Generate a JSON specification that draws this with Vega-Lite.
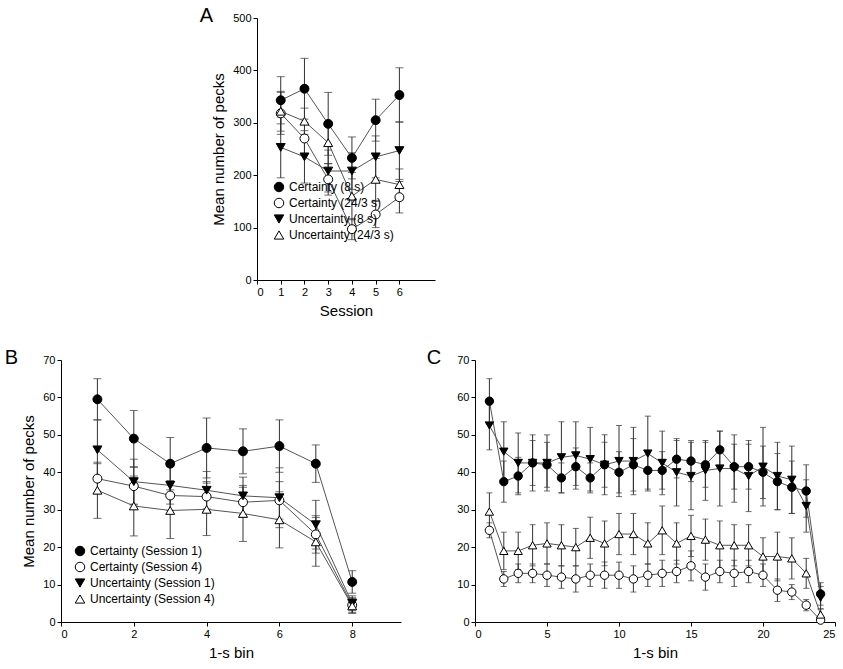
{
  "$schema": "https://vega.github.io/schema/vega-lite/v6.json",
  "background": "#ffffff",
  "padding": {"left": 4, "top": 6, "right": 0, "bottom": 5},
  "config": {
    "font": "Liberation Sans",
    "view": {"stroke": null},
    "axis": {"grid": false, "domainColor": "#000", "tickColor": "#000", "labelColor": "#000", "titleColor": "#000", "labelFontSize": 11, "titleFontSize": 15, "titleFontWeight": "normal", "tickSize": 4, "titlePadding": 6},
    "legend": {"labelFontSize": 12, "labelColor": "#000", "symbolStrokeWidth": 1, "symbolSize": 90, "rowPadding": 2, "title": null},
    "title": {"fontSize": 20, "fontWeight": "normal", "anchor": "start"}
  },
  "datasets": {
    "a": [
      {"s": "Certainty (8 s)", "x": 1, "y": 343, "e": 45}, {"s": "Certainty (8 s)", "x": 2, "y": 365, "e": 58}, {"s": "Certainty (8 s)", "x": 3, "y": 298, "e": 60}, {"s": "Certainty (8 s)", "x": 4, "y": 233, "e": 40}, {"s": "Certainty (8 s)", "x": 5, "y": 305, "e": 40}, {"s": "Certainty (8 s)", "x": 6, "y": 353, "e": 52},
      {"s": "Certainty (24/3 s)", "x": 1, "y": 318, "e": 40}, {"s": "Certainty (24/3 s)", "x": 2, "y": 270, "e": 30}, {"s": "Certainty (24/3 s)", "x": 3, "y": 192, "e": 30}, {"s": "Certainty (24/3 s)", "x": 4, "y": 97, "e": 20}, {"s": "Certainty (24/3 s)", "x": 5, "y": 125, "e": 25}, {"s": "Certainty (24/3 s)", "x": 6, "y": 158, "e": 30},
      {"s": "Uncertainty (8 s)", "x": 1, "y": 253, "e": 58}, {"s": "Uncertainty (8 s)", "x": 2, "y": 235, "e": 50}, {"s": "Uncertainty (8 s)", "x": 3, "y": 208, "e": 40}, {"s": "Uncertainty (8 s)", "x": 4, "y": 208, "e": 35}, {"s": "Uncertainty (8 s)", "x": 5, "y": 235, "e": 40}, {"s": "Uncertainty (8 s)", "x": 6, "y": 247, "e": 55},
      {"s": "Uncertainty (24/3 s)", "x": 1, "y": 322, "e": 38}, {"s": "Uncertainty (24/3 s)", "x": 2, "y": 303, "e": 25}, {"s": "Uncertainty (24/3 s)", "x": 3, "y": 262, "e": 40}, {"s": "Uncertainty (24/3 s)", "x": 4, "y": 160, "e": 45}, {"s": "Uncertainty (24/3 s)", "x": 5, "y": 192, "e": 40}, {"s": "Uncertainty (24/3 s)", "x": 6, "y": 182, "e": 30}
    ],
    "b": [
      {"s": "Certainty (Session 1)", "x": 1, "y": 59.5, "e": 5.5}, {"s": "Certainty (Session 1)", "x": 2, "y": 49, "e": 7.5}, {"s": "Certainty (Session 1)", "x": 3, "y": 42.3, "e": 7}, {"s": "Certainty (Session 1)", "x": 4, "y": 46.5, "e": 8}, {"s": "Certainty (Session 1)", "x": 5, "y": 45.6, "e": 6}, {"s": "Certainty (Session 1)", "x": 6, "y": 47, "e": 7}, {"s": "Certainty (Session 1)", "x": 7, "y": 42.3, "e": 5}, {"s": "Certainty (Session 1)", "x": 8, "y": 10.7, "e": 3},
      {"s": "Certainty (Session 4)", "x": 1, "y": 38.3, "e": 4}, {"s": "Certainty (Session 4)", "x": 2, "y": 36.3, "e": 5}, {"s": "Certainty (Session 4)", "x": 3, "y": 33.8, "e": 4}, {"s": "Certainty (Session 4)", "x": 4, "y": 33.5, "e": 4}, {"s": "Certainty (Session 4)", "x": 5, "y": 32, "e": 4}, {"s": "Certainty (Session 4)", "x": 6, "y": 32.5, "e": 5}, {"s": "Certainty (Session 4)", "x": 7, "y": 23.4, "e": 5}, {"s": "Certainty (Session 4)", "x": 8, "y": 4.5, "e": 2},
      {"s": "Uncertainty (Session 1)", "x": 1, "y": 46, "e": 8}, {"s": "Uncertainty (Session 1)", "x": 2, "y": 37.5, "e": 6}, {"s": "Uncertainty (Session 1)", "x": 3, "y": 36.5, "e": 5}, {"s": "Uncertainty (Session 1)", "x": 4, "y": 35.2, "e": 5}, {"s": "Uncertainty (Session 1)", "x": 5, "y": 33.7, "e": 5}, {"s": "Uncertainty (Session 1)", "x": 6, "y": 33.2, "e": 8}, {"s": "Uncertainty (Session 1)", "x": 7, "y": 26, "e": 6.5}, {"s": "Uncertainty (Session 1)", "x": 8, "y": 5, "e": 2},
      {"s": "Uncertainty (Session 4)", "x": 1, "y": 35.2, "e": 7.5}, {"s": "Uncertainty (Session 4)", "x": 2, "y": 31, "e": 8}, {"s": "Uncertainty (Session 4)", "x": 3, "y": 29.8, "e": 7.5}, {"s": "Uncertainty (Session 4)", "x": 4, "y": 30.1, "e": 7}, {"s": "Uncertainty (Session 4)", "x": 5, "y": 29, "e": 7.5}, {"s": "Uncertainty (Session 4)", "x": 6, "y": 27.3, "e": 7.5}, {"s": "Uncertainty (Session 4)", "x": 7, "y": 21.4, "e": 6.5}, {"s": "Uncertainty (Session 4)", "x": 8, "y": 4.3, "e": 2}
    ],
    "c": [
      {"s": "C1", "x": 1, "y": 59, "e": 6}, {"s": "C1", "x": 2, "y": 37.5, "e": 5.5}, {"s": "C1", "x": 3, "y": 39, "e": 5}, {"s": "C1", "x": 4, "y": 42.5, "e": 6}, {"s": "C1", "x": 5, "y": 42, "e": 6}, {"s": "C1", "x": 6, "y": 38.5, "e": 4}, {"s": "C1", "x": 7, "y": 41.5, "e": 5}, {"s": "C1", "x": 8, "y": 38.5, "e": 4}, {"s": "C1", "x": 9, "y": 42, "e": 6}, {"s": "C1", "x": 10, "y": 40, "e": 5.5}, {"s": "C1", "x": 11, "y": 42, "e": 7}, {"s": "C1", "x": 12, "y": 40.5, "e": 5}, {"s": "C1", "x": 13, "y": 40.5, "e": 5}, {"s": "C1", "x": 14, "y": 43.5, "e": 5}, {"s": "C1", "x": 15, "y": 43, "e": 5.5}, {"s": "C1", "x": 16, "y": 42, "e": 6}, {"s": "C1", "x": 17, "y": 46, "e": 5}, {"s": "C1", "x": 18, "y": 41.5, "e": 6}, {"s": "C1", "x": 19, "y": 41.5, "e": 6}, {"s": "C1", "x": 20, "y": 40, "e": 7}, {"s": "C1", "x": 21, "y": 37.5, "e": 7.5}, {"s": "C1", "x": 22, "y": 36, "e": 7}, {"s": "C1", "x": 23, "y": 35, "e": 7}, {"s": "C1", "x": 24, "y": 7.5, "e": 3},
      {"s": "C4", "x": 1, "y": 24.5, "e": 2}, {"s": "C4", "x": 2, "y": 11.5, "e": 2}, {"s": "C4", "x": 3, "y": 13, "e": 2.5}, {"s": "C4", "x": 4, "y": 13, "e": 2.5}, {"s": "C4", "x": 5, "y": 12.5, "e": 3}, {"s": "C4", "x": 6, "y": 12, "e": 3}, {"s": "C4", "x": 7, "y": 11.5, "e": 3.5}, {"s": "C4", "x": 8, "y": 12.5, "e": 3}, {"s": "C4", "x": 9, "y": 12.5, "e": 3.5}, {"s": "C4", "x": 10, "y": 12.5, "e": 3.5}, {"s": "C4", "x": 11, "y": 11.5, "e": 3.5}, {"s": "C4", "x": 12, "y": 12.5, "e": 3}, {"s": "C4", "x": 13, "y": 13, "e": 3.5}, {"s": "C4", "x": 14, "y": 13.5, "e": 3}, {"s": "C4", "x": 15, "y": 15, "e": 4}, {"s": "C4", "x": 16, "y": 12, "e": 3.5}, {"s": "C4", "x": 17, "y": 13.5, "e": 3}, {"s": "C4", "x": 18, "y": 13, "e": 3.5}, {"s": "C4", "x": 19, "y": 13.5, "e": 3}, {"s": "C4", "x": 20, "y": 12.5, "e": 3}, {"s": "C4", "x": 21, "y": 8.5, "e": 3}, {"s": "C4", "x": 22, "y": 8, "e": 2}, {"s": "C4", "x": 23, "y": 4.5, "e": 1.5}, {"s": "C4", "x": 24, "y": 0.5, "e": 0.5},
      {"s": "U1", "x": 1, "y": 52.5, "e": 6.5}, {"s": "U1", "x": 2, "y": 45.5, "e": 8}, {"s": "U1", "x": 3, "y": 42.5, "e": 8}, {"s": "U1", "x": 4, "y": 42.5, "e": 7.5}, {"s": "U1", "x": 5, "y": 42.5, "e": 7.5}, {"s": "U1", "x": 6, "y": 44, "e": 9.5}, {"s": "U1", "x": 7, "y": 44.5, "e": 9}, {"s": "U1", "x": 8, "y": 43.5, "e": 8.5}, {"s": "U1", "x": 9, "y": 42, "e": 8}, {"s": "U1", "x": 10, "y": 43, "e": 9.5}, {"s": "U1", "x": 11, "y": 43, "e": 9}, {"s": "U1", "x": 12, "y": 45, "e": 10}, {"s": "U1", "x": 13, "y": 42.5, "e": 8.5}, {"s": "U1", "x": 14, "y": 40, "e": 9}, {"s": "U1", "x": 15, "y": 39, "e": 9}, {"s": "U1", "x": 16, "y": 40.5, "e": 8}, {"s": "U1", "x": 17, "y": 41, "e": 10}, {"s": "U1", "x": 18, "y": 41, "e": 9}, {"s": "U1", "x": 19, "y": 39, "e": 9.5}, {"s": "U1", "x": 20, "y": 41.5, "e": 10.5}, {"s": "U1", "x": 21, "y": 39, "e": 9}, {"s": "U1", "x": 22, "y": 38, "e": 9}, {"s": "U1", "x": 23, "y": 31, "e": 7}, {"s": "U1", "x": 24, "y": 6.5, "e": 3},
      {"s": "U4", "x": 1, "y": 29.5, "e": 5}, {"s": "U4", "x": 2, "y": 19, "e": 5}, {"s": "U4", "x": 3, "y": 19, "e": 5}, {"s": "U4", "x": 4, "y": 20.5, "e": 5.5}, {"s": "U4", "x": 5, "y": 21, "e": 5.5}, {"s": "U4", "x": 6, "y": 20.5, "e": 5.5}, {"s": "U4", "x": 7, "y": 20, "e": 5}, {"s": "U4", "x": 8, "y": 22.5, "e": 5.5}, {"s": "U4", "x": 9, "y": 21, "e": 6}, {"s": "U4", "x": 10, "y": 23.5, "e": 5.5}, {"s": "U4", "x": 11, "y": 23.5, "e": 5.5}, {"s": "U4", "x": 12, "y": 21, "e": 5.5}, {"s": "U4", "x": 13, "y": 24.5, "e": 6.5}, {"s": "U4", "x": 14, "y": 21, "e": 5.5}, {"s": "U4", "x": 15, "y": 23, "e": 5.5}, {"s": "U4", "x": 16, "y": 22, "e": 5.5}, {"s": "U4", "x": 17, "y": 20.5, "e": 6.5}, {"s": "U4", "x": 18, "y": 20.5, "e": 5.5}, {"s": "U4", "x": 19, "y": 20.5, "e": 5.5}, {"s": "U4", "x": 20, "y": 17.5, "e": 5}, {"s": "U4", "x": 21, "y": 17.5, "e": 6.5}, {"s": "U4", "x": 22, "y": 17, "e": 5.5}, {"s": "U4", "x": 23, "y": 13, "e": 4}, {"s": "U4", "x": 24, "y": 2, "e": 1.5}
    ]
  },
  "vconcat": [
    {
      "hconcat": [
        {"width": 118, "height": 262, "data": {"values": []}, "mark": "point", "encoding": {}},
        {
          "title": {"text": "A", "dx": -12, "offset": -14},
          "width": 178, "height": 262,
          "data": {"name": "a"},
          "encoding": {
            "x": {"field": "x", "type": "quantitative", "scale": {"domain": [0, 7.5], "nice": false}, "axis": {"values": [0, 1, 2, 3, 4, 5, 6], "title": "Session"}},
            "y": {"field": "y", "type": "quantitative", "scale": {"domain": [0, 500]}, "axis": {"values": [0, 100, 200, 300, 400, 500], "title": "Mean number of pecks"}}
          },
          "layer": [
            {"mark": {"type": "errorbar", "ticks": {"size": 8, "color": "#333"}, "color": "#333"}, "encoding": {"yError": {"field": "e"}, "detail": {"field": "s"}}},
            {"mark": {"type": "line", "color": "#555", "strokeWidth": 1}, "encoding": {"detail": {"field": "s"}}},
            {"mark": {"type": "point", "opacity": 1, "strokeWidth": 1, "size": 80},
             "encoding": {
               "shape": {"field": "s", "type": "nominal", "scale": {"domain": ["Certainty (8 s)", "Certainty (24/3 s)", "Uncertainty (8 s)", "Uncertainty (24/3 s)"], "range": ["circle", "circle", "triangle-down", "triangle-up"]}, "legend": {"orient": "none", "legendX": 212, "legendY": 163}},
               "fill": {"field": "s", "type": "nominal", "scale": {"domain": ["Certainty (8 s)", "Certainty (24/3 s)", "Uncertainty (8 s)", "Uncertainty (24/3 s)"], "range": ["#000", "#fff", "#000", "#fff"]}, "legend": {"orient": "none", "legendX": 212, "legendY": 163}},
               "stroke": {"field": "s", "type": "nominal", "scale": {"domain": ["Certainty (8 s)", "Certainty (24/3 s)", "Uncertainty (8 s)", "Uncertainty (24/3 s)"], "range": ["#000", "#000", "#000", "#000"]}, "legend": {"orient": "none", "legendX": 212, "legendY": 163}}
             }}
          ]
        }
      ]
    },
    {
      "hconcat": [
        {
          "title": {"text": "B", "dx": -17, "offset": -14},
          "width": 340, "height": 262,
          "data": {"name": "b"},
          "encoding": {
            "x": {"field": "x", "type": "quantitative", "scale": {"domain": [0, 9.34], "nice": false}, "axis": {"values": [0, 2, 4, 6, 8], "title": "1-s bin"}},
            "y": {"field": "y", "type": "quantitative", "scale": {"domain": [0, 70]}, "axis": {"values": [0, 10, 20, 30, 40, 50, 60, 70], "title": "Mean number of pecks"}}
          },
          "layer": [
            {"mark": {"type": "errorbar", "ticks": {"size": 8, "color": "#333"}, "color": "#333"}, "encoding": {"yError": {"field": "e"}, "detail": {"field": "s"}}},
            {"mark": {"type": "line", "color": "#555", "strokeWidth": 1}, "encoding": {"detail": {"field": "s"}}},
            {"mark": {"type": "point", "opacity": 1, "strokeWidth": 1, "size": 80},
             "encoding": {
               "shape": {"field": "s", "type": "nominal", "scale": {"domain": ["Certainty (Session 1)", "Certainty (Session 4)", "Uncertainty (Session 1)", "Uncertainty (Session 4)"], "range": ["circle", "circle", "triangle-down", "triangle-up"]}, "legend": {"orient": "none", "legendX": 13, "legendY": 185}},
               "fill": {"field": "s", "type": "nominal", "scale": {"domain": ["Certainty (Session 1)", "Certainty (Session 4)", "Uncertainty (Session 1)", "Uncertainty (Session 4)"], "range": ["#000", "#fff", "#000", "#fff"]}, "legend": {"orient": "none", "legendX": 13, "legendY": 185}},
               "stroke": {"field": "s", "type": "nominal", "scale": {"domain": ["Certainty (Session 1)", "Certainty (Session 4)", "Uncertainty (Session 1)", "Uncertainty (Session 4)"], "range": ["#000", "#000", "#000", "#000"]}, "legend": {"orient": "none", "legendX": 13, "legendY": 185}}
             }}
          ]
        },
        {
          "title": {"text": "C", "dx": -30, "offset": -14},
          "width": 360, "height": 262,
          "data": {"name": "c"},
          "encoding": {
            "x": {"field": "x", "type": "quantitative", "scale": {"domain": [0, 25], "nice": false}, "axis": {"values": [0, 5, 10, 15, 20, 25], "title": "1-s bin"}},
            "y": {"field": "y", "type": "quantitative", "scale": {"domain": [0, 70]}, "axis": {"values": [0, 10, 20, 30, 40, 50, 60, 70], "title": null}}
          },
          "layer": [
            {"mark": {"type": "errorbar", "ticks": {"size": 6, "color": "#333"}, "color": "#333"}, "encoding": {"yError": {"field": "e"}, "detail": {"field": "s"}}},
            {"mark": {"type": "line", "color": "#555", "strokeWidth": 1}, "encoding": {"detail": {"field": "s"}}},
            {"mark": {"type": "point", "opacity": 1, "stroke": "#000", "strokeWidth": 1, "size": 70},
             "encoding": {
               "shape": {"field": "s", "type": "nominal", "scale": {"domain": ["C1", "C4", "U1", "U4"], "range": ["circle", "circle", "triangle-down", "triangle-up"]}, "legend": null},
               "fill": {"field": "s", "type": "nominal", "scale": {"domain": ["C1", "C4", "U1", "U4"], "range": ["#000", "#fff", "#000", "#fff"]}, "legend": null}
             }}
          ]
        }
      ],
      "spacing": 25,
      "resolve": {"scale": {"shape": "independent", "fill": "independent", "stroke": "independent"}}
    }
  ],
  "spacing": 30,
  "resolve": {"scale": {"shape": "independent", "fill": "independent", "stroke": "independent"}}
}
